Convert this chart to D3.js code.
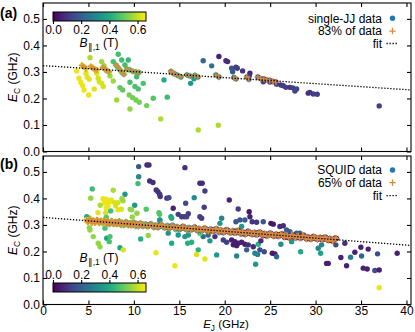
<!DOCTYPE html>
<html><head><meta charset="utf-8">
<script src="https://cdn.jsdelivr.net/npm/d3@7"></script>
<style>body{margin:0;background:#fff}svg{display:block}text{font-family:"Liberation Sans",Arial,Helvetica,sans-serif}</style>
</head><body><svg id="c" width="415" height="332"></svg>
<script>
// ---------- data ----------
const xDomain = [0, 40.5];
const yDomain = [0, 0.56];
const cbDomain = [0, 0.66];
const xTicks = [0, 5, 10, 15, 20, 25, 30, 35, 40];
const yTicks = [0, 0.1, 0.2, 0.3, 0.4, 0.5];
const cbTicks = [0, 0.2, 0.4, 0.6];
const panelLabels = ["(a)", "(b)"];
const legendA = ["single-JJ data", "83% of data", "fit"];
const legendB = ["SQUID data", "65% of data", "fit"];
const fitA = [0.324, -0.00227];   // intercept, slope
const fitB = [0.3285, -0.00261];

// panel (a): single-JJ points not in fit subset
const jjOutEJ = [3.71,3.96,4.15,4.37,4.51,5.03,4.73,4.87,5.09,5.17,5.64,5.91,6.08,6.19,6.46,6.63,6.46,6.71,7.01,7.37,7.73,8.11,7.73,8.28,8.66,9.02,9.38,9.38,8.47,8.77,9.57,10.12,10.48,9.49,9.87,10.23,10.59,9.57,10.31,11.03,11.41,12.13,12.95,13.31,13.67,17.08,19.29,16.25,16.61,17.63,18.56,19.36,20.13,20.32,20.76,20.87,21.23,21.38,21.97,22.77,22.70,24.24,24.97,25.71,26.18,26.44,26.73,27.17,27.50,27.91,27.72,29.19,29.37,29.74,30.18,37.00];
const jjOutEC = [0.304,0.276,0.261,0.248,0.232,0.213,0.295,0.280,0.272,0.354,0.236,0.295,0.276,0.263,0.257,0.245,0.339,0.324,0.304,0.285,0.266,0.194,0.339,0.367,0.345,0.326,0.308,0.345,0.241,0.232,0.261,0.245,0.236,0.213,0.203,0.194,0.186,0.160,0.282,0.257,0.173,0.201,0.123,0.270,0.205,0.081,0.099,0.257,0.274,0.342,0.323,0.358,0.342,0.339,0.314,0.301,0.318,0.314,0.304,0.295,0.286,0.263,0.262,0.254,0.251,0.248,0.242,0.242,0.240,0.236,0.228,0.220,0.223,0.217,0.216,0.172];
const jjOutB = [0.64,0.64,0.64,0.64,0.64,0.64,0.63,0.63,0.63,0.58,0.63,0.62,0.62,0.62,0.62,0.62,0.56,0.56,0.56,0.56,0.56,0.56,0.47,0.46,0.46,0.46,0.46,0.44,0.50,0.50,0.47,0.47,0.47,0.52,0.52,0.52,0.52,0.55,0.45,0.47,0.52,0.48,0.58,0.40,0.45,0.58,0.58,0.35,0.36,0.22,0.25,0.06,0.08,0.08,0.16,0.18,0.12,0.12,0.10,0.07,0.10,0.12,0.12,0.12,0.10,0.12,0.12,0.10,0.12,0.14,0.14,0.10,0.10,0.12,0.12,0.12];
// panel (a): points in fit subset (83%)
const jjCoreEJ = [4.29,4.51,4.73,5.28,5.50,5.72,5.94,6.60,6.82,7.04,7.26,8.03,8.25,8.47,8.69,8.91,9.24,9.57,9.90,10.23,10.56,14.08,14.30,14.52,14.85,15.18,15.84,16.17,16.72,17.05,19.03,19.36,21.01,21.23,22.44,22.66,23.65,23.98,24.31,24.64,24.97,25.30,25.63];
const jjCoreEC = [0.325,0.319,0.313,0.321,0.315,0.309,0.308,0.317,0.311,0.306,0.300,0.326,0.317,0.308,0.298,0.291,0.311,0.308,0.302,0.300,0.298,0.302,0.296,0.292,0.287,0.281,0.289,0.285,0.287,0.281,0.289,0.281,0.279,0.274,0.281,0.272,0.281,0.275,0.274,0.270,0.268,0.264,0.262];
const jjCoreB = [0.63,0.63,0.63,0.62,0.62,0.62,0.62,0.56,0.56,0.56,0.56,0.48,0.48,0.48,0.48,0.48,0.45,0.45,0.45,0.45,0.45,0.36,0.36,0.36,0.36,0.36,0.34,0.34,0.32,0.32,0.28,0.28,0.24,0.24,0.22,0.22,0.18,0.17,0.16,0.15,0.14,0.13,0.12];

// panel (b): SQUID points not in fit subset
const sqOutEJ = [10.53,11.44,11.66,10.53,10.45,11.74,12.10,12.46,12.65,12.84,12.90,13.64,15.62,17.27,17.52,17.82,13.86,16.64,14.33,15.70,17.74,20.50,21.48,22.69,22.77,14.08,14.16,14.88,15.26,15.54,15.81,15.99,17.27,17.46,19.66,21.23,21.67,22.22,23.02,23.51,24.24,25.08,25.34,26.07,26.44,26.81,27.17,27.91,28.27,19.47,21.86,13.78,14.88,15.62,15.99,14.16,15.92,16.36,17.63,18.18,18.37,18.92,19.84,20.21,20.76,21.12,21.49,20.94,21.31,21.86,22.22,22.59,23.14,23.69,22.41,23.98,23.87,24.35,23.32,23.62,25.23,25.52,25.71,26.18,17.08,16.91,17.82,19.11,21.31,23.40,14.52,27.36,28.35,30.29,30.66,30.55,31.21,31.39,31.76,32.23,33.22,32.78,33.41,33.85,34.32,34.98,35.06,35.24,35.68,35.79,36.52,37.00,36.82,38.98,37.00,5.42,5.25,7.73,9.02,6.60,6.96,6.79,7.34,7.51,7.89,8.25,8.00,8.69,8.80,8.61,6.96,7.15,6.30,6.05,6.90,7.45,10.09,9.60,10.34,11.36,12.76,12.84,12.84,9.82,6.96,5.06,8.28,5.09,5.17,5.53,6.08,6.27,7.01,7.37,7.29,8.47,8.83,10.75,11.58,12.43,6.71,7.18,4.81,6.82,12.87,12.76,9.76,17.27];
const sqOutEC = [0.520,0.526,0.526,0.482,0.456,0.466,0.460,0.432,0.425,0.416,0.407,0.401,0.516,0.457,0.457,0.428,0.403,0.403,0.363,0.382,0.367,0.394,0.360,0.350,0.331,0.331,0.325,0.340,0.331,0.331,0.331,0.342,0.331,0.325,0.325,0.312,0.319,0.319,0.312,0.310,0.312,0.306,0.303,0.294,0.297,0.281,0.275,0.269,0.269,0.306,0.294,0.269,0.262,0.256,0.262,0.231,0.231,0.235,0.256,0.262,0.240,0.256,0.243,0.235,0.243,0.237,0.231,0.225,0.222,0.235,0.227,0.225,0.218,0.227,0.206,0.240,0.206,0.199,0.193,0.189,0.193,0.191,0.180,0.227,0.206,0.189,0.172,0.187,0.183,0.152,0.146,0.237,0.199,0.212,0.225,0.193,0.155,0.155,0.241,0.225,0.231,0.177,0.146,0.178,0.197,0.216,0.183,0.137,0.134,0.209,0.128,0.130,0.191,0.193,0.063,0.436,0.401,0.431,0.416,0.399,0.397,0.384,0.387,0.394,0.384,0.384,0.372,0.399,0.391,0.359,0.365,0.372,0.374,0.346,0.346,0.353,0.374,0.359,0.344,0.359,0.346,0.340,0.318,0.330,0.328,0.328,0.357,0.290,0.281,0.256,0.231,0.218,0.250,0.256,0.237,0.214,0.206,0.247,0.260,0.195,0.310,0.306,0.331,0.288,0.319,0.300,0.357,0.268];
const sqOutB = [0.18,0.08,0.08,0.30,0.45,0.08,0.08,0.10,0.10,0.10,0.10,0.08,0.08,0.08,0.08,0.12,0.15,0.32,0.06,0.15,0.12,0.06,0.12,0.04,0.06,0.36,0.40,0.12,0.12,0.12,0.14,0.12,0.12,0.12,0.30,0.18,0.18,0.20,0.10,0.10,0.18,0.04,0.04,0.08,0.08,0.20,0.20,0.20,0.20,0.35,0.35,0.35,0.35,0.35,0.35,0.40,0.42,0.42,0.22,0.22,0.35,0.10,0.12,0.12,0.05,0.05,0.05,0.05,0.05,0.06,0.06,0.08,0.08,0.42,0.20,0.08,0.15,0.15,0.30,0.30,0.05,0.05,0.22,0.33,0.42,0.62,0.63,0.35,0.30,0.35,0.64,0.35,0.40,0.30,0.30,0.38,0.06,0.06,0.25,0.15,0.08,0.06,0.06,0.28,0.06,0.06,0.22,0.06,0.06,0.06,0.15,0.06,0.15,0.06,0.64,0.45,0.55,0.58,0.35,0.64,0.64,0.64,0.64,0.64,0.62,0.62,0.62,0.56,0.56,0.62,0.64,0.64,0.58,0.64,0.62,0.46,0.35,0.55,0.55,0.48,0.48,0.48,0.35,0.55,0.48,0.63,0.63,0.55,0.55,0.55,0.55,0.55,0.38,0.47,0.47,0.38,0.62,0.42,0.55,0.64,0.47,0.47,0.40,0.47,0.35,0.35,0.55,0.50];
// panel (b): points in fit subset (65%)
const sqCoreEJ = [4.8,5.0,5.2,5.4,5.6,5.8,6.0,6.2,6.4,6.6,6.8,7.0,7.2,7.4,7.6,7.8,8.0,8.2,8.4,8.6,8.8,9.0,9.2,9.4,9.6,9.8,10.0,10.2,10.4,10.6,10.8,11.0,11.3,11.6,11.9,12.2,12.5,12.8,13.1,13.4,13.7,14.0,14.3,14.6,14.9,15.2,15.5,15.8,16.1,16.4,16.7,17.0,17.3,17.6,17.9,18.2,18.5,18.8,19.1,19.4,19.7,20.0,20.3,20.6,20.9,21.2,21.5,21.8,22.1,22.4,22.7,23.0,23.3,23.6,23.9,24.2,24.5,24.8,25.1,25.4,25.7,26.0,26.3,26.6,26.9,27.2,27.5,27.8,28.1,28.4,28.7,29.0,29.3,29.6,29.9,30.2,30.5,30.8,31.1,31.4,31.7,32.0,32.3,
  4.9,5.1,5.3,5.5,5.7,5.9,6.1,6.3,6.5,6.7,6.9,7.1,7.3,7.5,7.7,7.9,8.1,8.3,8.5,8.7,8.9,9.1,9.3,9.5,9.7,9.9,10.1,10.3,10.5,10.7,10.9,11.1,
  11.45,11.75,12.05,12.35,12.65,12.95,13.25,13.55,13.85,14.15,14.45,14.75,15.05,15.35,15.65,15.95,16.25,16.55,16.85,17.15,17.45,17.75,18.05,18.35,18.65,18.95,19.25,19.55,19.85,20.15,20.45,20.75,21.05,21.35,21.65,21.95,22.25,22.55,22.85,23.15,23.45,23.75,24.05,24.35,24.65,24.95,25.25,25.55,25.85,26.15,26.45,26.75,27.05,27.35,27.65,27.95,28.25,28.55,28.85,29.15,29.45,29.75,30.05,30.35,30.65,30.95,31.25,31.55,31.85,32.15];
const sqCoreEC = [0.320,0.313,0.322,0.308,0.315,0.311,0.318,0.307,0.316,0.308,0.318,0.304,0.311,0.307,0.314,0.303,0.312,0.304,0.314,0.300,0.307,0.303,0.310,0.299,0.307,0.300,0.309,0.296,0.302,0.299,0.305,0.295,0.303,0.295,0.304,0.291,0.297,0.293,0.299,0.289,0.297,0.289,0.298,0.284,0.291,0.287,0.293,0.282,0.290,0.283,0.292,0.278,0.284,0.281,0.287,0.276,0.284,0.276,0.286,0.272,0.278,0.274,0.281,0.270,0.278,0.270,0.279,0.266,0.272,0.268,0.274,0.264,0.272,0.264,0.273,0.259,0.266,0.262,0.268,0.257,0.265,0.258,0.267,0.253,0.259,0.256,0.262,0.251,0.259,0.251,0.261,0.247,0.253,0.249,0.255,0.245,0.253,0.245,0.254,0.241,0.247,0.243,0.249,
  0.312,0.320,0.314,0.317,0.308,0.319,0.311,0.314,0.308,0.316,0.310,0.313,0.303,0.315,0.306,0.310,0.303,0.312,0.305,0.309,0.299,0.311,0.302,0.306,0.299,0.308,0.301,0.305,0.295,0.307,0.298,0.302,
  0.295,0.303,0.296,0.299,0.290,0.301,0.292,0.295,0.288,0.297,0.290,0.293,0.283,0.294,0.286,0.289,0.282,0.290,0.284,0.287,0.277,0.288,0.279,0.283,0.276,0.284,0.277,0.281,0.271,0.282,0.273,0.276,0.270,0.278,0.271,0.274,0.264,0.276,0.267,0.270,0.263,0.272,0.265,0.268,0.258,0.269,0.261,0.264,0.257,0.265,0.258,0.262,0.252,0.263,0.254,0.258,0.251,0.259,0.252,0.255,0.246,0.257,0.248,0.251,0.245,0.253,0.246,0.249,0.239,0.251];
const sqCoreB = [0.64,0.62,0.64,0.60,0.63,0.58,0.64,0.60,0.62,0.56,0.60,0.55,0.58,0.50,0.56,0.52,0.55,0.48,0.54,0.50,0.47,0.52,0.45,0.50,0.42,0.48,0.44,0.40,0.46,0.42,0.38,0.44,0.40,0.36,0.42,0.35,0.38,0.33,0.36,0.30,0.35,0.32,0.30,0.34,0.28,0.32,0.25,0.30,0.22,0.28,0.20,0.26,0.22,0.18,0.25,0.20,0.15,0.22,0.18,0.12,0.20,0.15,0.12,0.18,0.10,0.15,0.08,0.14,0.10,0.16,0.08,0.12,0.10,0.06,0.12,0.08,0.10,0.05,0.09,0.12,0.06,0.10,0.08,0.05,0.10,0.06,0.08,0.12,0.05,0.09,0.06,0.10,0.05,0.08,0.10,0.06,0.12,0.05,0.08,0.10,0.06,0.08,0.05,
  0.63,0.60,0.64,0.58,0.62,0.60,0.63,0.57,0.60,0.62,0.56,0.55,0.52,0.57,0.50,0.54,0.52,0.48,0.50,0.46,0.52,0.45,0.48,0.44,0.46,0.42,0.45,0.40,0.44,0.42,0.38,0.40,
  0.38,0.35,0.40,0.33,0.36,0.34,0.30,0.35,0.32,0.30,0.33,0.28,0.30,0.26,0.30,0.24,0.28,0.22,0.26,0.20,0.24,0.18,0.22,0.20,0.16,0.20,0.14,0.18,0.12,0.16,0.10,0.15,0.12,0.08,0.14,0.10,0.12,0.06,0.10,0.08,0.12,0.06,0.10,0.05,0.08,0.10,0.06,0.08,0.05,0.10,0.06,0.08,0.05,0.10,0.06,0.08,0.12,0.05,0.08,0.06,0.10,0.05,0.08,0.06,0.10,0.05,0.08,0.06,0.05,0.08];

// ---------- drawing ----------
const svg = d3.select("#c");
svg.append("rect").attr("width", 415).attr("height", 332).attr("fill", "#fff");
const FONT = "Liberation Sans, Arial, Helvetica, sans-serif";
const ORANGE = "#d98b3f";
const CROSS = "M-3.2,0H3.2M0,-3.2V3.2";
const x = d3.scaleLinear().domain(xDomain).range([43, 411]);
const cScale = d3.scaleSequential(d3.interpolateViridis).domain(cbDomain);
const zip3 = (a, b, c) => a.map((v, i) => ({ej: v, ec: b[i], b: c[i]}));

const panels = [
  {top: 3, bottom: 151.5, out: zip3(jjOutEJ, jjOutEC, jjOutB), core: zip3(jjCoreEJ, jjCoreEC, jjCoreB),
   fit: fitA, label: panelLabels[0], labelY: 13, legend: legendA, legY: [18.3, 31, 43.5], legColor: "#1f77b4",
   xLabels: false, cb: {y: 12, tickAbove: false}},
  {top: 156, bottom: 304.5, out: zip3(sqOutEJ, sqOutEC, sqOutB), core: zip3(sqCoreEJ, sqCoreEC, sqCoreB),
   fit: fitB, label: panelLabels[1], labelY: 164, legend: legendB, legY: [170, 182.7, 195.7], legColor: "#1f77b4",
   xLabels: true, cb: {y: 283, tickAbove: true}}
];

panels.forEach((p, pi) => {
  const y = d3.scaleLinear().domain(yDomain).range([p.bottom, p.top]);
  const clipId = "clip" + pi;
  svg.append("clipPath").attr("id", clipId).append("rect")
    .attr("x", 43).attr("y", p.top).attr("width", 368).attr("height", p.bottom - p.top);
  const g = svg.append("g").attr("clip-path", `url(#${clipId})`);
  const all = p.out.concat(p.core);
  g.selectAll("circle.pt").data(all).join("circle").attr("class", "pt")
    .attr("cx", d => x(d.ej)).attr("cy", d => y(d.ec)).attr("r", 2.7)
    .attr("fill", d => cScale(d.b));
  g.selectAll("path.cr").data(p.core).join("path").attr("class", "cr")
    .attr("transform", d => `translate(${x(d.ej)},${y(d.ec)})`)
    .attr("d", CROSS).attr("stroke", ORANGE).attr("stroke-width", 1.25).attr("fill", "none");
  const line = d3.line().x(d => x(d)).y(d => y(p.fit[0] + p.fit[1] * d));
  g.append("path").datum(xDomain).attr("d", line).attr("fill", "none")
    .attr("stroke", "#000").attr("stroke-width", 1.3).attr("stroke-dasharray", "1.3,1.7");

  // frame
  svg.append("rect").attr("x", 43).attr("y", p.top).attr("width", 368).attr("height", p.bottom - p.top)
    .attr("fill", "none").attr("stroke", "#000").attr("stroke-width", 1.1);

  const styleAxis = sel => { sel.select(".domain").remove(); sel.attr("font-family", FONT).attr("font-size", 12);
    sel.selectAll("line").attr("stroke-width", 1.1); sel.selectAll("text").attr("fill", "#000"); };
  svg.append("g").attr("transform", `translate(0,${p.bottom})`)
    .call(d3.axisBottom(x).tickValues(xTicks).tickSize(-4).tickPadding(2)
      .tickFormat(p.xLabels ? d3.format("d") : () => "")).call(styleAxis);
  svg.append("g").attr("transform", `translate(0,${p.top})`)
    .call(d3.axisTop(x).tickValues(xTicks).tickSize(-4).tickFormat(() => "")).call(styleAxis);
  svg.append("g").attr("transform", "translate(43,0)")
    .call(d3.axisLeft(y).tickValues(yTicks).tickSize(-4).tickPadding(3).tickFormat(d3.format(".1f"))).call(styleAxis);
  svg.append("g").attr("transform", "translate(411,0)")
    .call(d3.axisRight(y).tickValues(yTicks).tickSize(-4).tickFormat(() => "")).call(styleAxis);

  // y title
  const yt = svg.append("text").attr("transform", `translate(13,${(p.top + p.bottom) / 2}) rotate(-90)`)
    .attr("text-anchor", "middle").attr("dy", "0.35em").attr("font-size", 12).attr("font-family", FONT);
  yt.append("tspan").attr("font-style", "italic").text("E");
  yt.append("tspan").attr("font-size", 8.5).attr("dy", 3).text("C");
  yt.append("tspan").attr("dy", -3).text(" (GHz)");

  // panel label
  svg.append("text").attr("x", 0).attr("y", p.labelY).attr("dy", "0.35em").attr("font-weight", "bold")
    .attr("font-size", 14).attr("font-family", FONT).text(p.label);

  // legend
  p.legend.forEach((t, i) => {
    svg.append("text").attr("x", 382).attr("y", p.legY[i]).attr("dy", "0.35em").attr("text-anchor", "end")
      .attr("font-size", 12).attr("font-family", FONT).text(t);
  });
  svg.append("circle").attr("cx", 392.5).attr("cy", p.legY[0]).attr("r", 2.7).attr("fill", p.legColor);
  svg.append("path").attr("transform", `translate(392.5,${p.legY[1]})`).attr("d", CROSS)
    .attr("stroke", ORANGE).attr("stroke-width", 1.25);
  svg.append("line").attr("x1", 386.5).attr("x2", 398).attr("y1", p.legY[2]).attr("y2", p.legY[2])
    .attr("stroke", "#000").attr("stroke-width", 1.3).attr("stroke-dasharray", "1.3,1.7");

  // colorbar
  const cbx = d3.scaleLinear().domain(cbDomain).range([53, 146]);
  const gid = "grad" + pi;
  const grad = svg.append("defs").append("linearGradient").attr("id", gid);
  d3.range(0, 1.0001, 0.05).forEach(t => grad.append("stop").attr("offset", t).attr("stop-color", d3.interpolateViridis(t)));
  const cbY = p.cb.y, cbH = 9;
  svg.append("rect").attr("x", 53).attr("y", cbY).attr("width", 93).attr("height", cbH)
    .attr("fill", `url(#${gid})`).attr("stroke", "#000").attr("stroke-width", 1);
  const cbAxis = p.cb.tickAbove ? d3.axisTop(cbx) : d3.axisBottom(cbx);
  svg.append("g").attr("transform", `translate(0,${p.cb.tickAbove ? cbY : cbY + cbH})`)
    .call(cbAxis.tickValues(cbTicks).tickSize(3).tickPadding(1.5).tickFormat(d3.format(".1f"))).call(styleAxis);
  const titleY = p.cb.tickAbove ? cbY - 25 : cbY + cbH + 22;
  const bt = svg.append("text").attr("x", 99).attr("y", titleY).attr("dy", "0.35em").attr("text-anchor", "middle")
    .attr("font-size", 12).attr("font-family", FONT);
  bt.append("tspan").attr("font-style", "italic").text("B");
  bt.append("tspan").attr("font-size", 8.5).attr("dy", 3).text("\u2225,1");
  bt.append("tspan").attr("dy", -3).text(" (T)");
});

// x title
const xt = svg.append("text").attr("x", 226).attr("y", 328).attr("text-anchor", "middle")
  .attr("font-size", 11.5).attr("font-family", FONT);
xt.append("tspan").attr("font-style", "italic").text("E");
xt.append("tspan").attr("font-size", 8.2).attr("dy", 2.5).text("J");
xt.append("tspan").attr("dy", -2.5).text(" (GHz)");
</script></body></html>
